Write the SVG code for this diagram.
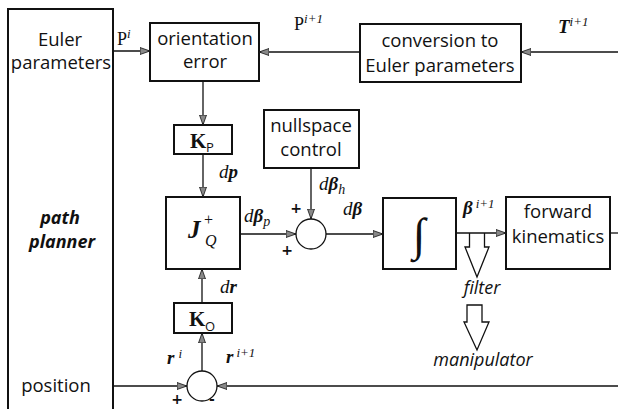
<svg xmlns="http://www.w3.org/2000/svg" width="618" height="409" viewBox="0 0 618 409">
<style>
.box{fill:#fff;stroke:#111;stroke-width:2}
.ln{fill:none;stroke:#111;stroke-width:1.3}
.arrowln{fill:none;stroke:#111;stroke-width:1.3;marker-end:url(#ah)}
.t{font-family:"Open Sans","Noto Sans",sans-serif;font-size:18.5px;fill:#111;text-anchor:middle}
.ti{font-family:"Open Sans","Noto Sans",sans-serif;font-size:18px;font-style:italic;fill:#111;text-anchor:middle}
.m{font-family:"Liberation Serif","DejaVu Serif",serif;fill:#111}
.pm{font-family:"DejaVu Sans",sans-serif;font-size:14px;font-weight:bold;text-anchor:middle;fill:#111}
.hollow{fill:#fff;stroke:#111;stroke-width:1.3}
</style>
<defs>
<marker id="ah" viewBox="0 0 10 8" refX="10" refY="4" markerWidth="10" markerHeight="8" markerUnits="userSpaceOnUse" orient="auto">
<path d="M0,0.5 L10,4 L0,7.5 Z" fill="#888" stroke="#111" stroke-width="0.8"/>
</marker>
</defs>

<g id="path-planner">
<path class="box" d="M8,420 L8,9 L113,9 L113,420"/>
<text class="t" x="60" y="46">Euler</text>
<text class="t" x="61" y="69">parameters</text>
<text class="ti" x="60" y="224" font-weight="bold">path</text>
<text class="ti" x="62" y="248" font-weight="bold">planner</text>
<text class="t" x="56" y="392">position</text>
</g>

<g id="orientation-error">
<rect class="box" x="150" y="23" width="109" height="58"/>
<text class="t" x="205" y="45">orientation</text>
<text class="t" x="205" y="68">error</text>
</g>

<g id="conversion">
<rect class="box" x="360" y="24" width="161" height="58"/>
<text class="t" x="440" y="47">conversion to</text>
<text class="t" x="440" y="72">Euler parameters</text>
</g>

<g id="kp">
<rect class="box" x="174" y="125" width="58" height="29"/>
<text class="m" x="190" y="148" font-size="21" font-weight="bold">K</text>
<text x="206" y="152" font-family="Open Sans, sans-serif" font-size="13" fill="#111">P</text>
</g>

<g id="nullspace">
<rect class="box" x="264" y="110" width="95" height="58"/>
<text class="t" x="311" y="132">nullspace</text>
<text class="t" x="311" y="156">control</text>
</g>

<g id="jacobian">
<rect class="box" x="166" y="197" width="74" height="72"/>
<text class="m" x="188" y="238" font-size="25" font-weight="bold" font-style="italic">J</text>
<text class="m" x="204" y="225" font-size="16">+</text>
<text class="m" x="205" y="246" font-size="16" font-style="italic">Q</text>
</g>

<g id="sum1">
<circle class="hollow" cx="311" cy="234" r="15" stroke-width="2"/>
</g>

<g id="integrator">
<rect class="box" x="383" y="198" width="73" height="71"/>
<text class="m" x="419" y="250" font-size="46" text-anchor="middle">∫</text>
</g>

<g id="forward-kinematics">
<rect class="box" x="506" y="197" width="104" height="72"/>
<text class="t" x="558" y="218">forward</text>
<text class="t" x="558" y="243">kinematics</text>
</g>

<g id="ko">
<rect class="box" x="174" y="303" width="58" height="30"/>
<text class="m" x="189" y="326" font-size="21" font-weight="bold">K</text>
<text x="205" y="331" font-family="Open Sans, sans-serif" font-size="13" fill="#111">O</text>
</g>

<g id="sum2">
<circle class="hollow" cx="202" cy="386" r="15" stroke-width="2"/>
</g>

<g id="filter-arrows">
<path class="hollow" d="M469.5,233 L469.5,247 L465,247 L477,277 L489,247 L484.5,247 L484.5,233"/>
<path class="hollow" d="M467,305 L482,305 L482,322 L489,322 L477,350 L464,322 L467,322 Z"/>
<text class="ti" x="482" y="294">filter</text>
<text class="ti" x="483" y="366">manipulator</text>
</g>

<g id="connectors">
<line class="arrowln" x1="113" y1="51" x2="150" y2="51"/>
<line class="arrowln" x1="360" y1="52" x2="259" y2="52"/>
<line class="arrowln" x1="618" y1="52" x2="521" y2="52"/>
<line class="arrowln" x1="203" y1="81" x2="203" y2="125"/>
<line class="arrowln" x1="203" y1="154" x2="203" y2="197"/>
<line class="arrowln" x1="311" y1="168" x2="311" y2="219"/>
<line class="arrowln" x1="240" y1="234" x2="296" y2="234"/>
<line class="arrowln" x1="326" y1="234" x2="383" y2="234"/>
<line class="arrowln" x1="456" y1="233" x2="506" y2="233"/>
<line class="ln" x1="610" y1="233" x2="618" y2="233"/>
<line class="arrowln" x1="202" y1="303" x2="202" y2="269"/>
<line class="arrowln" x1="202" y1="371" x2="202" y2="333"/>
<line class="arrowln" x1="113" y1="386" x2="187" y2="386"/>
<line class="arrowln" x1="618" y1="386" x2="217" y2="386"/>
</g>

<g id="labels" class="m">
<text x="117" y="45" font-size="18">P<tspan font-size="13" font-style="italic" dy="-7">i</tspan></text>
<text x="294" y="30" font-size="18">P<tspan font-size="13" font-style="italic" dy="-7">i+1</tspan></text>
<text x="558" y="33" font-size="19" font-weight="bold" font-style="italic">T<tspan font-size="13" font-weight="normal" dy="-7">i+1</tspan></text>
<text x="219" y="178" font-size="19" font-style="italic">d<tspan font-weight="bold">p</tspan></text>
<text x="244" y="222" font-size="19" font-style="italic">d<tspan font-weight="bold">β</tspan><tspan font-size="14" dy="4">p</tspan></text>
<text x="319" y="190" font-size="19" font-style="italic">d<tspan font-weight="bold">β</tspan><tspan font-size="14" dy="4">h</tspan></text>
<text x="343" y="215" font-size="19" font-style="italic">d<tspan font-weight="bold">β</tspan></text>
<text x="463" y="214" font-size="19" font-style="italic" font-weight="bold">β<tspan font-size="13" font-weight="normal" dx="3" dy="-6">i+1</tspan></text>
<text x="220" y="293" font-size="19" font-style="italic">d<tspan font-weight="bold">r</tspan></text>
<text x="167" y="364" font-size="19" font-style="italic" font-weight="bold">r<tspan font-size="13" font-weight="normal" dx="4" dy="-6">i</tspan></text>
<text x="226" y="363" font-size="19" font-style="italic" font-weight="bold">r<tspan font-size="13" font-weight="normal" dx="3" dy="-6">i+1</tspan></text>
</g>
<g id="signs">
<text class="pm" x="296" y="213">+</text>
<text class="pm" x="287" y="255">+</text>
<text class="pm" x="177" y="404">+</text>
<text class="pm" x="212" y="404">-</text>
</g>
</svg>
